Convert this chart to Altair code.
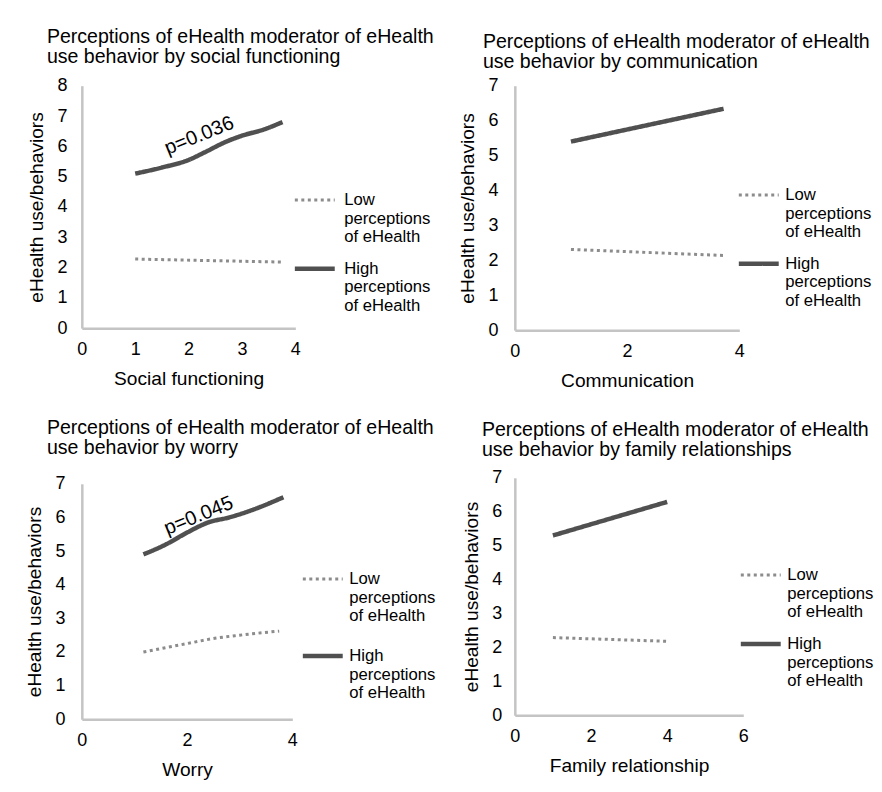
import altair as alt
import pandas as pd
import json

FONT = "Liberation Sans"

groups = ["Low perceptions of eHealth", "High perceptions of eHealth"]
low_label = ["Low", "perceptions", "of eHealth"]
high_label = ["High", "perceptions", "of eHealth"]
y_title = "eHealth use/behaviors"

titles = [
    ["Perceptions of eHealth moderator of eHealth", "use behavior by social functioning"],
    ["Perceptions of eHealth moderator of eHealth", "use behavior by communication"],
    ["Perceptions of eHealth moderator of eHealth", "use behavior by worry"],
    ["Perceptions of eHealth moderator of eHealth", "use behavior by family relationships"],
]
x_titles = ["Social functioning", "Communication", "Worry", "Family relationship"]

# Panel 1: social functioning
sf_low_x = [1.0, 3.76]
sf_low_y = [2.28, 2.18]
sf_high_x = [1.0, 1.5, 2.0, 2.3, 2.7, 3.0, 3.4, 3.76]
sf_high_y = [5.1, 5.3, 5.55, 5.8, 6.15, 6.35, 6.55, 6.8]
sf_x_ticks = [0, 1, 2, 3, 4]
sf_y_max = 8

# Panel 2: communication
cm_low_x = [1.0, 3.72]
cm_low_y = [2.31, 2.14]
cm_high_x = [1.0, 3.72]
cm_high_y = [5.4, 6.34]
cm_x_ticks = [0, 2, 4]
cm_y_max = 7

# Panel 3: worry
wo_low_x = [1.17, 2.0, 2.5, 3.0, 3.75]
wo_low_y = [2.0, 2.25, 2.4, 2.5, 2.62]
wo_high_x = [1.17, 1.6, 2.0, 2.4, 2.8, 3.2, 3.83]
wo_high_y = [4.9, 5.2, 5.55, 5.85, 6.0, 6.2, 6.6]
wo_x_ticks = [0, 2, 4]
wo_y_max = 7

# Panel 4: family relationship
fr_low_x = [1.0, 4.0]
fr_low_y = [2.29, 2.18]
fr_high_x = [1.0, 4.0]
fr_high_y = [5.3, 6.29]
fr_x_ticks = [0, 2, 4, 6]
fr_y_max = 7

# annotations (text, x, y)
ann_sf = ("p=0.036", 2.2, 6.35)
ann_wo = ("p=0.045", 2.22, 6.05)


def label_expr():
    lo = json.dumps(low_label).replace('"', "'")
    hi = json.dumps(high_label).replace('"', "'")
    return f"datum.label == '{groups[0]}' ? {lo} : {hi}"


def panel(lx, ly, hx, hy, xticks, ymax, title, xtitle, w, h, layout, ann=None):
    rows = []
    for i, (x, y) in enumerate(zip(lx, ly)):
        rows.append({"group": groups[0], "x": x, "y": y, "o": i})
    for i, (x, y) in enumerate(zip(hx, hy)):
        rows.append({"group": groups[1], "x": x, "y": y, "o": i})
    df = pd.DataFrame(rows)
    xmax = xticks[-1]
    legend = alt.Legend(
        orient="none",
        legendX=layout["lx"],
        legendY=layout["ly"],
        title=None,
        labelExpr=label_expr(),
        labelFont=FONT,
        labelFontSize=16.7,
        labelColor="black",
        labelBaseline="middle",
        labelOffset=layout.get("lo", 4),
        symbolType="stroke",
        symbolSize=1600,
        rowPadding=layout["rp"],
        padding=0,
        labelLimit=300,
    )
    xs = alt.Scale(domain=[0, xmax], nice=False)
    ys = alt.Scale(domain=[0, ymax], nice=False)
    xaxis = alt.Axis(values=xticks, title=xtitle, labelPadding=layout["xlp"],
                     titlePadding=layout["xtp"], format="d")
    yaxis = alt.Axis(values=list(range(ymax + 1)), title=y_title,
                     labelPadding=layout["ylp"], titlePadding=10, format="d")
    lines = alt.Chart(df).mark_line(interpolate="monotone").encode(
        x=alt.X("x:Q", scale=xs, axis=xaxis),
        y=alt.Y("y:Q", scale=ys, axis=yaxis),
        color=alt.Color("group:N", scale=alt.Scale(domain=groups, range=["#8c8c8c", "#505050"]),
                        legend=legend),
        strokeDash=alt.StrokeDash("group:N", scale=alt.Scale(domain=groups, range=[[3, 3.5], [1, 0]]),
                                  legend=legend),
        strokeWidth=alt.StrokeWidth("group:N", scale=alt.Scale(domain=groups, range=[3, 4.5]),
                                    legend=legend),
        order="o:Q",
    )
    layers = [lines]
    if ann is not None:
        adf = pd.DataFrame({"t": [ann[0]], "x": [ann[1]], "y": [ann[2]]})
        layers.append(
            alt.Chart(adf).mark_text(font=FONT, fontSize=20, angle=338, color="black",
                                     align="center", baseline="middle").encode(
                x=alt.X("x:Q", scale=xs, axis=xaxis), y=alt.Y("y:Q", scale=ys, axis=yaxis),
                text="t:N")
        )
    return alt.layer(*layers).properties(
        width=w, height=h,
        title=alt.TitleParams(text=title, anchor="start", frame="group", fontSize=19.6,
                              font=FONT, fontWeight="normal", color="black", lineHeight=20,
                              dx=layout["tdx"], offset=layout["toff"]),
    )


p1 = panel(sf_low_x, sf_low_y, sf_high_x, sf_high_y, sf_x_ticks, sf_y_max, titles[0], x_titles[0],
           214, 243, dict(lx=211, ly=93, rp=0, xlp=12, xtp=11, ylp=15, tdx=-35, toff=9, lo=7), ann_sf)
p2 = panel(cm_low_x, cm_low_y, cm_high_x, cm_high_y, cm_x_ticks, cm_y_max, titles[1], x_titles[1],
           225, 245, dict(lx=222, ly=88, rp=-1, xlp=12, xtp=11, ylp=17, tdx=-32, toff=4))
p3 = panel(wo_low_x, wo_low_y, wo_high_x, wo_high_y, wo_x_ticks, wo_y_max, titles[2], x_titles[2],
           211, 236, dict(lx=219, ly=74, rp=8, xlp=12, xtp=11, ylp=17, tdx=-35, toff=16), ann_wo)
p4 = panel(fr_low_x, fr_low_y, fr_high_x, fr_high_y, fr_x_ticks, fr_y_max, titles[3], x_titles[3],
           229, 238, dict(lx=224, ly=76, rp=0, xlp=12, xtp=11, ylp=13, tdx=-33, toff=8))

res = dict(color="independent", strokeDash="independent", strokeWidth="independent")
left = alt.vconcat(p1, p3, spacing=29).resolve_scale(**res).resolve_legend(**res)
right = alt.vconcat(p2, p4, spacing=29).resolve_scale(**res).resolve_legend(**res)
chart = alt.hconcat(left, right, spacing=22).resolve_scale(**res).resolve_legend(**res).properties(
    padding={"left": 17, "top": 18, "right": 0, "bottom": 0}
).configure_view(stroke=None).configure_axis(
    domainColor="#c4c4c4", domainWidth=2.5, ticks=False, grid=False,
    labelFont=FONT, labelFontSize=18, labelColor="black", labelOverlap=False, labelFlush=False,
    titleFont=FONT, titleFontSize=19.2, titleFontWeight="normal", titleColor="black",
)

chart.save("out.html", embed_options={"renderer": "svg", "actions": False})
